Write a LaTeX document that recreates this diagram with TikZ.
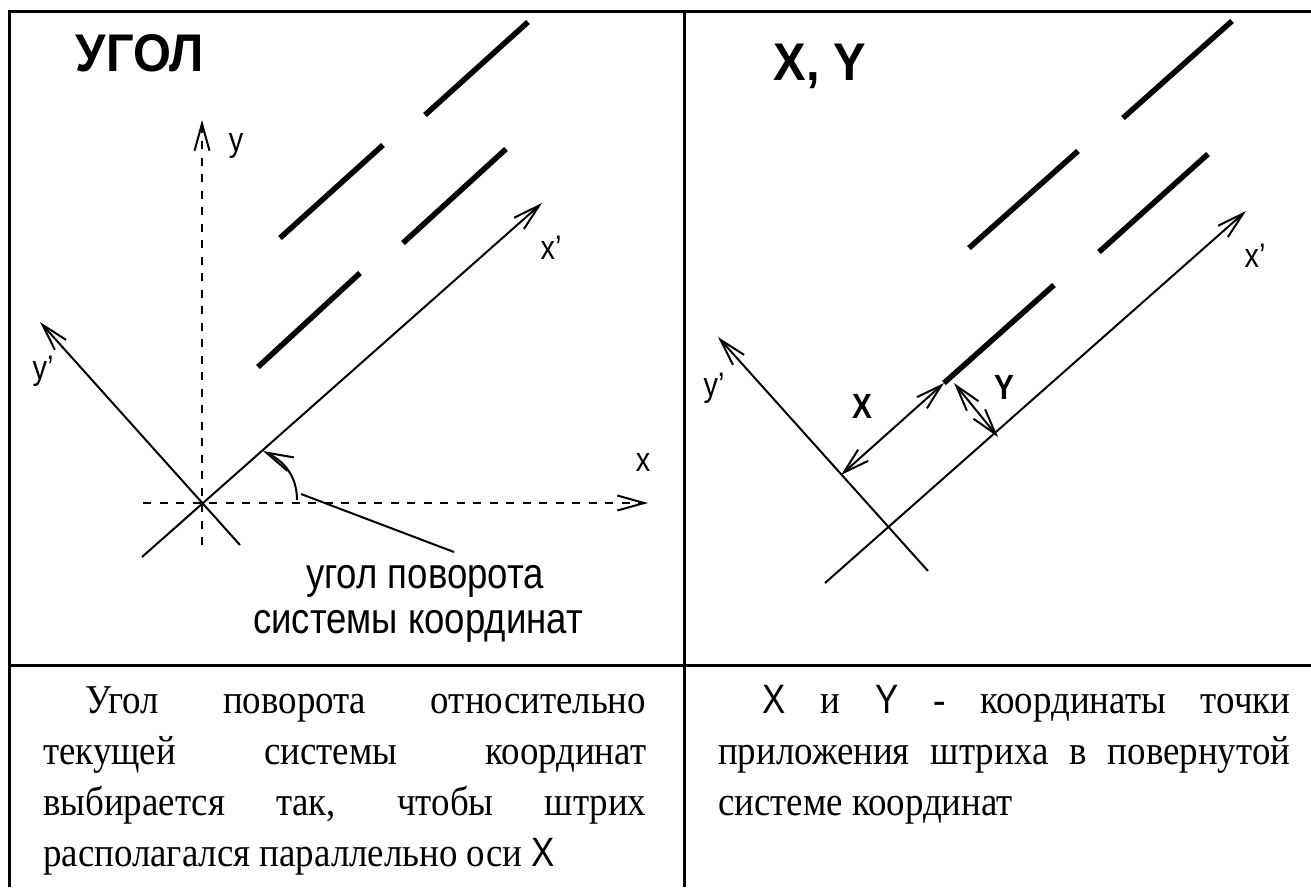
\documentclass[tikz,border=0pt]{standalone}
\usepackage{fontspec}
\setmainfont{Liberation Serif}[FakeStretch=0.9]
\setsansfont{Liberation Sans}[FakeStretch=0.85]
\newfontfamily\titlefont{Liberation Sans}[FakeStretch=0.92]
\usetikzlibrary{arrows.meta}
\tikzset{
  tbl/.style={line width=3pt},
  axis/.style={line width=2pt,-{Straight Barb[length=27pt,width=15pt]}},
  dashaxis/.style={axis,dash pattern=on 8pt off 8.5pt},
  dim/.style={line width=2pt,{Straight Barb[length=26pt,width=15pt]}-{Straight Barb[length=26pt,width=15pt]}},
  shtrih/.style={line width=5.5pt},
  lbl/.style={font=\sffamily\fontsize{34}{40}\selectfont,inner sep=0pt},
  ttl/.style={font=\titlefont\bfseries\fontsize{53}{60}\selectfont,inner sep=0pt,anchor=base},
  txt/.style={font=\fontsize{41}{51}\selectfont,inner sep=0pt,anchor=base west},
}
\begin{document}
\begin{tikzpicture}[x=1pt,y=-1pt]
\useasboundingbox (0,0) rectangle (1311,887);
% table
\draw[tbl] (9,887) -- (9,11) -- (1311,11);
\draw[tbl] (684,11) -- (684,887);
\draw[tbl] (9,665) -- (1311,665);

% left: angle
\node[ttl] (ugol) at (140,71) {УГОЛ};
\coordinate (xs) at (143,503);
\coordinate (xe) at (648,503);
\coordinate (ys) at (202,545);
\coordinate (ye) at (202,120);
\coordinate (xps) at (142,557);
\coordinate (xpe) at (542,203);
\coordinate (yps) at (240,545);
\coordinate (ype) at (40,322);
\draw[dashaxis] (xs) -- (xe);
\draw[dashaxis] (ys) -- (ye);
\draw[axis] (xps) -- (xpe);
\draw[axis] (yps) -- (ype);
\node[lbl] (lx) at (643,463) {x};
\node[lbl] (ly) at (236,146) {y};
\node[lbl] (lxp) at (551,248) {x’};
\node[lbl] (lyp) at (43,371) {y’};
\draw[shtrih] (425,115) -- (528,22);
\draw[shtrih] (280,238) -- (383,145);
\draw[shtrih] (403,243) -- (506,149);
\draw[shtrih] (258,367) -- (360,273);
\coordinate (arcs) at (297,500);
\coordinate (arce) at (263,451);
\draw[axis] (arcs) .. controls (297,476) and (284,461) .. (arce);
\coordinate (ldr) at (301,494);
\node[lbl,font=\sffamily\fontsize{43}{46}\selectfont,anchor=base] (note1) at (425,588) {угол поворота};
\node[lbl,font=\sffamily\fontsize{43}{46}\selectfont,anchor=base] (note2) at (418,633) {системы координат};
\draw[line width=2pt] (ldr) -- (454,552);

% right: X, Y
\node[ttl] (xy) at (820,80) {X, Y};
\coordinate (xps2) at (825,583);
\coordinate (xpe2) at (1246,211);
\coordinate (yps2) at (928,571);
\coordinate (ype2) at (718,337);
\draw[axis] (xps2) -- (xpe2);
\draw[axis] (yps2) -- (ype2);
\node[lbl] (lxp2) at (1255,256) {x’};
\node[lbl] (lyp2) at (714,388) {y’};
\draw[shtrih] (1123,118) -- (1232,21);
\draw[shtrih] (969,248) -- (1078,151);
\draw[shtrih] (1099,252) -- (1208,154);
\draw[shtrih] (944,383) -- (1054,285);
\coordinate (pt) at (944,383);
\coordinate (ptx) at (841,475);
\coordinate (pty) at (954,383);
\coordinate (pty2) at (998,437);
\draw[dim] (ptx) -- (pt);
\draw[dim] (pty) -- (pty2);
\node[lbl,font=\sffamily\bfseries\fontsize{35}{40}\selectfont] (lX) at (862,406) {X};
\node[lbl,font=\sffamily\bfseries\fontsize{35}{40}\selectfont] (lY) at (1004,387) {Y};

% captions
\node[txt] (t1) at (43,713) {\makebox[603pt][s]{\hspace*{42pt}Угол поворота относительно}};
\node[txt] (t2) at (43,764) {\makebox[603pt][s]{текущей системы координат}};
\node[txt] (t3) at (43,815) {\makebox[603pt][s]{выбирается так, чтобы штрих}};
\node[txt] (t4) at (43,866) {располагался параллельно оси \textsf{X}};
\node[txt] (r1) at (718,713) {\makebox[572pt][s]{\hspace*{44pt}\textsf{X} и \textsf{Y} - координаты точки}};
\node[txt] (r2) at (718,764) {\makebox[572pt][s]{приложения штриха в повернутой}};
\node[txt] (r3) at (718,815) {системе координат};
\end{tikzpicture}
\end{document}
